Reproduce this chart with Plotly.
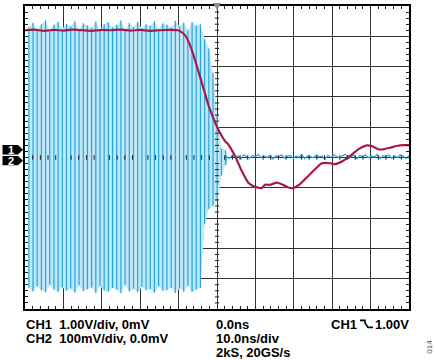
import numpy as np
import plotly.graph_objects as go

# ---------------- data ----------------
# CH1 (1.00 V/div), time in ns, value in volts
ch1_t = [-50, -47.5, -45, -42.5, -40, -37.5, -35, -32.5, -30, -27.5, -25, -22.5, -20, -17.5, -15, -12.5,
         -10.2, -9.64, -8.33, -7.03, -5.73, -4.43, -3.13, -2.27, -0.96, 0.34,
         2.08, 2.94, 4.69, 6.43, 8.15, 9.90, 11.64, 12.50, 13.80, 15.55, 16.85, 18.57, 19.87, 21.61,
         23.36, 25.52, 27.27, 29.43, 30.73, 32.89, 34.64, 36.80, 38.98, 40.29, 42.01, 43.31, 45.05,
         46.80, 48.52, 50]
ch1_v = [3.95, 3.97, 3.93, 3.96, 3.94, 3.97, 3.95, 3.93, 3.96, 3.95, 3.97, 3.94, 3.96, 3.93, 3.95, 3.96,
         3.95, 3.92, 3.79, 3.46, 2.97, 2.42, 1.87, 1.49, 1.05, 0.67,
         0.29, 0.18, -0.20, -0.69, -1.08, -1.22, -1.26, -1.15, -1.15, -1.08, -1.13, -1.24, -1.26, -1.13,
         -0.91, -0.64, -0.44, -0.44, -0.47, -0.36, -0.20, 0.02, 0.15, 0.13, 0.02, 0.02, 0.07,
         0.13, 0.16, 0.16]

# CH2 (100 mV/div): burst peaks, one per cycle (mV)
ch2_burst_start_ns = -49.0
ch2_burst_period_ns = 1.09
ch2_peak_top_mv = [430, 445, 420, 440, 452, 415, 438, 447, 425, 441, 433, 450, 418, 443, 436, 428,
                   449, 421, 440, 446, 430, 437, 452, 419, 444, 431, 447, 426, 440, 435, 450, 423,
                   442, 438, 429, 451, 433, 445, 420, 447, 436, 440, 390, 360, 280, 140, 30, 25]
ch2_peak_bot_mv = [-430, -442, -425, -438, -445, -420, -436, -444, -428, -440, -432, -446, -422, -441,
                   -435, -429, -447, -424, -439, -443, -431, -436, -448, -421, -442, -433, -445, -427,
                   -438, -434, -446, -425, -440, -437, -430, -447, -432, -443, -423, -444, -436, -430,
                   -220, -170, -160, -145, -60, -25]
# CH2 settled tail (mV)
ch2_tail_start_ns = 2.5
ch2_tail_mv = [4, -3, 8, 1, 6, -4, 9, 2, -2, 7, 3, 10, -1, 5, 0, 8, -5, 6, 2, 9, -2, 4, 7, -3, 5, 1,
               10, -4, 6, 3, -1, 8, 2, 5, -6, 7, 0, 9, 3, -2, 6, 11, -3, 4, 8, -5, 7, 1, 9, -1, 5, 2,
               10, -4, 6, 3, 8, -2, 5, 0, 9, 4, -3, 6]

ch1_pos_div = 0.25
ch2_pos_div = 0.0

# ---------------- geometry helpers ----------------
W, H = 435, 360
L, R, T, B = 25, 409, 4, 309


def px2p(px):
    return (px - L) / (R - L)


def py2p(py):
    return (B - py) / (B - T)


RED = '#a8194b'
BLUE = '#22a8dd'
PALE = '#c2e6f6'
GRID = '#333333'

fig = go.Figure()

# CH2 burst
n = len(ch2_peak_top_mv)
spike_t = [ch2_burst_start_ns + i * ch2_burst_period_ns for i in range(n)]
top_div = [v / 100 + ch2_pos_div for v in ch2_peak_top_mv]
bot_div = [v / 100 + ch2_pos_div for v in ch2_peak_bot_mv]

fig.add_trace(go.Scatter(x=spike_t + spike_t[::-1], y=top_div + bot_div[::-1], mode='lines',
                         fill='toself', fillcolor=PALE, line=dict(width=0), hoverinfo='skip'))
sx, sy = [], []
for t, a, b in zip(spike_t, top_div, bot_div):
    sx += [t, t, None]
    sy += [b, a, None]
fig.add_trace(go.Scatter(x=sx, y=sy, mode='lines', line=dict(color=BLUE, width=1.2)))

tail_t = list(np.linspace(ch2_tail_start_ns, 50, len(ch2_tail_mv)))
fig.add_trace(go.Scatter(x=[spike_t[-1]] + tail_t,
                         y=[bot_div[-1]] + [v / 100 + ch2_pos_div for v in ch2_tail_mv],
                         mode='lines', line=dict(color=BLUE, width=1.2)))

# CH1
fig.add_trace(go.Scatter(x=ch1_t, y=[v + ch1_pos_div for v in ch1_v], mode='lines',
                         line=dict(color=RED, width=2.2, shape='spline', smoothing=0.5)))

shapes = []
# center cross ticks
for k in range(-25, 26):
    t = k * 2
    if t % 10 != 0:
        shapes.append(dict(type='line', xref='x', yref='y', x0=t, x1=t, y0=-0.075, y1=0.075,
                           line=dict(color='#222', width=1)))
for k in range(-25, 26):
    y = k * 0.2
    if k % 5 != 0:
        shapes.append(dict(type='line', xref='x', yref='y', x0=-0.55, x1=0.55, y0=y, y1=y,
                           line=dict(color='#222', width=1)))

# trigger position marker
shapes.append(dict(type='path', xref='paper', yref='paper',
                   path=f"M {px2p(213)},{py2p(1)} L {px2p(221)},{py2p(1)} L {px2p(217)},{py2p(8)} Z",
                   fillcolor='#8a8a8a', line=dict(width=0)))

# channel ground markers
for py0, py1 in [(144, 153.4), (155, 164.4)]:
    mid = (py0 + py1) / 2
    shapes.append(dict(type='path', xref='paper', yref='paper',
                       path=(f"M {px2p(2.5)},{py2p(py0)} L {px2p(18)},{py2p(py0)} L {px2p(23)},{py2p(mid)} "
                             f"L {px2p(18)},{py2p(py1)} L {px2p(2.5)},{py2p(py1)} Z"),
                       fillcolor='black', line=dict(width=0)))

# falling-edge trigger symbol
shapes.append(dict(type='path', xref='paper', yref='paper',
                   path=(f"M {px2p(360)},{py2p(320.5)} L {px2p(365)},{py2p(320.5)} L {px2p(365)},{py2p(323)} "
                         f"L {px2p(368)},{py2p(327.5)} L {px2p(373)},{py2p(327.5)}"),
                   line=dict(color='black', width=1.6)))

FONT = 'Liberation Sans, Arial, sans-serif'
NB = '\u00a0'
ann = []


def text(s, px, py, anchor='left', size=13, color='black', angle=0):
    ann.append(dict(text=s, x=px2p(px), y=py2p(py), xref='paper', yref='paper', showarrow=False,
                    xanchor=anchor, yanchor='middle', textangle=angle,
                    font=dict(family=FONT, size=size, color=color)))


text(f'<b>CH1{NB}{NB}1.00V/div, 0mV</b>', 24, 325)
text(f'<b>CH2{NB}{NB}100mV/div, 0.0mV</b>', 24, 339)
text('<b>0.0ns</b>', 214, 325)
text('<b>10.0ns/div</b>', 214, 339)
text('<b>2kS, 20GS/s</b>', 214, 353)
text('<b>CH1</b>', 329, 325)
text('<b>1.00V</b>', 411, 325, anchor='right')
text('014', 430, 347, anchor='center', size=8, color='#555', angle=-90)
text('<b>1</b>', 10.5, 149, anchor='center', size=11, color='white')
text('<b>2</b>', 10.5, 160, anchor='center', size=11, color='white')

fig.update_layout(
    width=W, height=H, margin=dict(l=L, r=W - R, t=T, b=H - B),
    paper_bgcolor='white', plot_bgcolor='white', showlegend=False,
    shapes=shapes, annotations=ann,
    xaxis=dict(range=[-50, 50], tick0=0, dtick=10, showgrid=True, gridcolor=GRID, gridwidth=1.2,
               zeroline=False, showticklabels=False, showline=True, linecolor='black', linewidth=1.5,
               mirror='allticks', ticks='inside', ticklen=3, tickcolor='#222',
               minor=dict(dtick=2, ticks='inside', ticklen=3, tickcolor='#222', showgrid=False)),
    yaxis=dict(range=[-5, 5], tick0=0, dtick=1, showgrid=True, gridcolor=GRID, gridwidth=1.2,
               zeroline=False, showticklabels=False, showline=True, linecolor='black', linewidth=1.5,
               mirror='allticks', ticks='inside', ticklen=3, tickcolor='#222',
               minor=dict(dtick=0.2, ticks='inside', ticklen=3, tickcolor='#222', showgrid=False)),
)

fig.write_html('out.html', config={'displayModeBar': False},
               post_script="document.body.style.margin='0';document.body.style.padding='0';")
